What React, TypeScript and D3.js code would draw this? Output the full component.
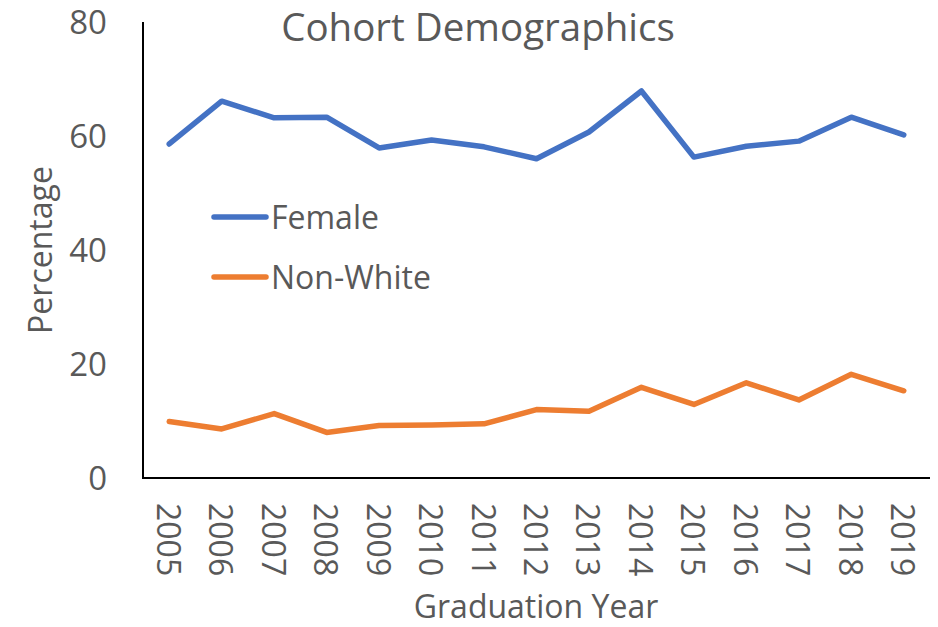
import React, { useEffect, useRef } from 'react';
import * as d3 from 'd3';

const years = ['2005', '2006', '2007', '2008', '2009', '2010', '2011', '2012', '2013', '2014', '2015', '2016', '2017', '2018', '2019'];
const female = [58.6, 66.1, 63.2, 63.3, 57.9, 59.3, 58.1, 56.0, 60.7, 67.9, 56.3, 58.2, 59.1, 63.3, 60.2];
const nonWhite = [9.9, 8.6, 11.3, 8.0, 9.2, 9.3, 9.5, 12.0, 11.7, 15.9, 12.9, 16.7, 13.7, 18.2, 15.3];
const yTicks = [0, 20, 40, 60, 80];
const seriesNames = ['Female', 'Non-White'];
const seriesColors = ['#4472C4', '#ED7D31'];

export default function App() {
  const ref = useRef<SVGSVGElement | null>(null);

  useEffect(() => {
    const svg = d3.select(ref.current);
    svg.selectAll('*').remove();

    const font = "'Open Sans', sans-serif";
    const textColor = '#595959';
    const left = 143, right = 930, top = 22, bottom = 478;

    const x = d3.scaleBand().domain(years).range([left, right]);
    const y = d3.scaleLinear().domain([0, 80]).range([bottom, top]);

    // axes lines
    svg.append('line')
      .attr('x1', left).attr('x2', left)
      .attr('y1', y(80)).attr('y2', bottom + 1)
      .attr('stroke', '#000').attr('stroke-width', 2);
    svg.append('line')
      .attr('x1', left - 1).attr('x2', right)
      .attr('y1', bottom).attr('y2', bottom)
      .attr('stroke', '#000').attr('stroke-width', 2);

    // y tick labels
    svg.append('g').selectAll('text')
      .data(yTicks)
      .join('text')
      .attr('x', 107)
      .attr('y', d => y(d))
      .attr('dy', '0.36em')
      .attr('text-anchor', 'end')
      .attr('font-family', font)
      .attr('font-size', 33)
      .attr('fill', textColor)
      .text(d => d);

    // x tick labels, rotated
    svg.append('g').selectAll('text')
      .data(years)
      .join('text')
      .attr('transform', d => `translate(${x(d)! + x.bandwidth() / 2},503) rotate(90)`)
      .attr('dominant-baseline', 'central')
      .attr('font-family', font)
      .attr('font-size', 32)
      .attr('fill', textColor)
      .text(d => d);

    // lines
    const line = d3.line<number>()
      .x((_, i) => x(years[i])! + x.bandwidth() / 2)
      .y(d => y(d));

    [female, nonWhite].forEach((s, i) => {
      svg.append('path')
        .datum(s)
        .attr('d', line)
        .attr('fill', 'none')
        .attr('stroke', seriesColors[i])
        .attr('stroke-width', 5.5)
        .attr('stroke-linejoin', 'round')
        .attr('stroke-linecap', 'round');
    });

    // legend
    const legend = svg.append('g');
    seriesNames.forEach((name, i) => {
      const ly = 217 + i * 60;
      legend.append('line')
        .attr('x1', 214).attr('x2', 266)
        .attr('y1', ly).attr('y2', ly)
        .attr('stroke', seriesColors[i])
        .attr('stroke-width', 5.5)
        .attr('stroke-linecap', 'round');
      legend.append('text')
        .attr('x', 271).attr('y', ly)
        .attr('dy', '0.36em')
        .attr('font-family', font)
        .attr('font-size', 32)
        .attr('fill', textColor)
        .text(name);
    });

    // title
    svg.append('text')
      .attr('x', 478).attr('y', 41)
      .attr('text-anchor', 'middle')
      .attr('font-family', font)
      .attr('font-size', 38.5)
      .attr('fill', textColor)
      .text('Cohort Demographics');

    // axis titles
    svg.append('text')
      .attr('x', 536).attr('y', 618)
      .attr('text-anchor', 'middle')
      .attr('font-family', font)
      .attr('font-size', 32)
      .attr('fill', textColor)
      .text('Graduation Year');
    svg.append('text')
      .attr('transform', 'translate(52,250) rotate(-90)')
      .attr('text-anchor', 'middle')
      .attr('font-family', font)
      .attr('font-size', 32)
      .attr('fill', textColor)
      .text('Percentage');
  }, []);

  return (
    <svg
      ref={ref}
      width={938}
      height={627}
      style={{ position: 'absolute', left: 0, top: 0, background: '#fff' }}
    />
  );
}
